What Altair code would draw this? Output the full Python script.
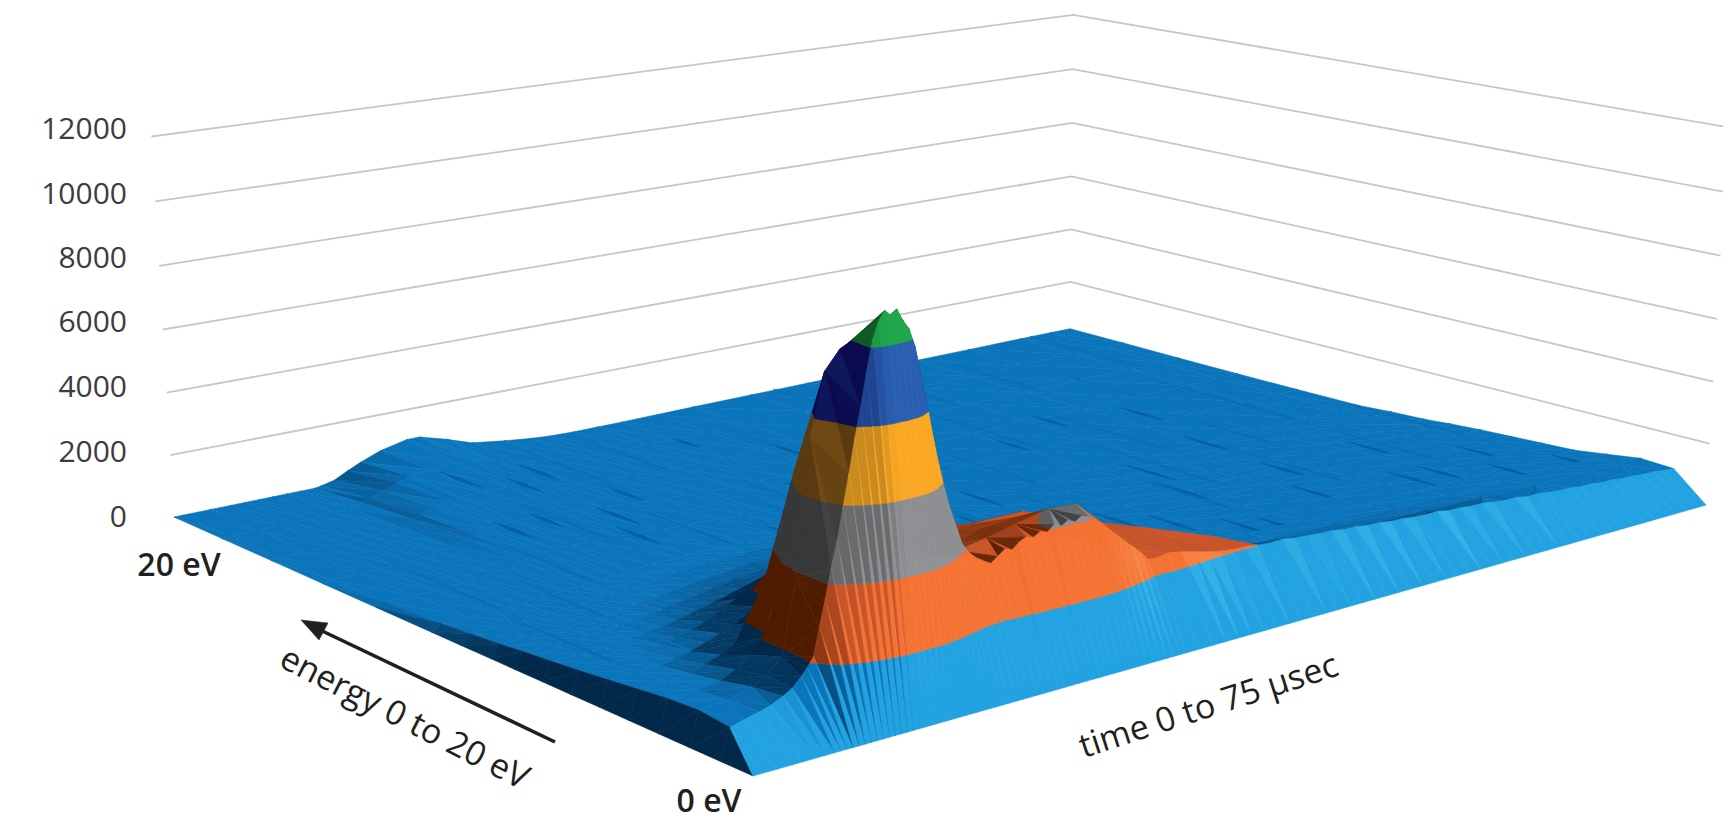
import altair as alt
import numpy as np

alt.data_transformers.disable_max_rows()

TIME = [0,0.6,2.5,4,5,6,7,8,9,10,10.5,11.5,12.5,13.5,15,17,18,20,22,24.5,26.5,28,30,32,34,37,40,45,50,55,60,65,70,73,75]
ENERGY = [0,0.9,1.8,2.7,3.6,4.5,5.4,6.3,7.2,8,9,10,12,14,16,18,20]

# the ridge row (0.9 eV) is read at a finer time step than the rest of the surface
RIDGE_T = [0,0.6,1.5,2.5,3.2,4,4.6,5.2,5.6,6,6.4,6.8,7.2,7.6,8,8.4,8.8,9.2,9.6,10,10.4,10.8,11.2,11.6,12,12.4,12.8,13.2,13.6,14,14.4,14.8,15.2,15.6,16,16.5,17,17.5,18,18.5,19,19.5,20,20.5,21,21.5,22,22.5,23,23.5,24,24.5,25,25.5,26,26.5,27,27.5,28,28.5,29,29.5,30,31,32,33,34,35,36,37,38,39,40,41,42,43,44,45,46,47,48,49,50,51,52,53,54,55,56,57,58,59,60,61,62,63,64,65,66,67,68,69,70,71,72,73,74,75]
RIDGE_Z = [0,850,950,1050,1150,1300,1450,1700,1900,2150,2900,3600,4400,5100,5950,6800,7700,8500,9400,10200,10650,10900,10750,10880,10550,10300,9800,9000,8200,7300,6500,5800,5200,4700,4200,3900,3700,3560,3450,3600,3750,3680,3850,3950,3880,4000,3930,4100,4000,4120,4030,4150,4080,3950,3800,3600,3400,3220,3020,2850,2650,2430,2400,2460,2400,2300,2200,2120,2070,2060,2000,1970,1980,1920,1900,1860,1850,1790,1780,1720,1710,1650,1640,1590,1560,1570,1500,1500,1450,1450,1390,1350,1350,1280,1280,1230,1190,1190,1130,1130,1080,1080,1030,1020,980,970,930,900]

E02 = [0,950,1000,1200,1400,1800,3800,7500,9200,9700,9800,9800,8800,6800,4700,3500,3500,3650,3850,4050,4000,3200,2350,2300,2200,2050,1500,1200,1150,1100,1050,1000,980,960,950]
E03 = [0,900,900,1000,1200,1500,1900,4200,6200,7400,7800,8000,7000,5500,3800,3100,3100,3200,3400,3500,3200,2800,2300,2250,2300,1800,950,900,880,860,840,820,800,800,800]
E04 = [0,800,800,850,1000,1150,1350,1500,1750,2600,3500,4500,4400,3700,3000,2700,2750,2850,3000,3050,2850,2600,2200,2100,2100,1000,800,720,700,680,670,660,650,650,650]
E05 = [0,700,700,720,800,900,1050,1200,1350,1500,1700,2500,3000,2900,2700,2500,2450,2500,2600,2650,2500,2300,2100,2100,1900,850,650,620,610,610,610,600,600,600,600]
E06 = [0,600,600,620,680,750,850,950,1100,1300,1400,1500,1800,2000,2250,2200,2200,2200,2200,2250,2150,2050,2050,2050,1500,700,560,540,530,530,530,530,530,530,550]
E07 = [0,520,520,520,560,600,650,720,800,900,950,1050,1150,1250,1400,1500,1550,1650,1700,1750,1650,1500,1300,1050,850,600,500,480,470,470,480,480,500,500,500]
E08 = [0,440,440,440,460,480,520,560,620,680,720,780,860,940,1050,1150,1200,1250,1300,1300,1250,1150,1000,820,680,500,420,400,400,400,410,420,430,430,430]
E09 = [0,360,360,360,380,400,420,460,500,540,570,620,680,740,820,900,940,980,1000,1000,950,880,760,640,540,420,350,340,340,340,340,350,350,350,350]
E10 = [0,280,280,280,290,320,340,370,400,430,450,490,530,570,630,680,700,720,730,720,680,620,540,470,400,320,280,270,270,270,280,280,290,300,300]
E11 = [0,200,200,200,220,250,270,300,320,350,370,400,430,460,490,510,520,520,510,490,450,410,370,330,290,240,220,210,210,210,210,220,220,220,220]
E12 = [0,100,100,100,110,130,160,220,300,400,450,500,520,530,520,480,450,400,350,300,260,230,200,190,180,180,180,180,180,180,190,190,200,200,200]
E13 = [0,50,50,50,60,80,110,170,260,400,480,570,610,620,600,560,520,440,360,280,230,200,170,160,160,170,170,170,180,180,190,190,190,190,190]
E14 = [0,20,20,20,30,50,70,110,180,320,420,560,660,720,740,720,680,540,390,290,220,180,160,150,150,160,170,170,180,180,190,190,190,190,190]
E15 = [0,10,10,10,20,30,40,60,100,180,280,430,600,720,820,860,840,640,420,300,220,170,150,140,140,150,160,170,180,180,190,190,200,200,200]
E16 = [0,0,0,0,0,0,0,0,0,0,30,130,350,550,800,1000,1000,750,450,300,200,150,120,120,120,130,140,150,160,170,180,190,200,200,200]
COUNTS = {2:E02,3:E03,4:E04,5:E05,6:E06,7:E07,8:E08,9:E09,10:E10,11:E11,12:E12,13:E13,14:E14,15:E15,16:E16}

# dark and faint creases that run along the energy direction: (time, energy from, energy to)
DARK_STREAKS = [(18,15.2,16.6),(20.9,16,17.6),(15.4,16.2,17.8),(12.3,12.6,14.2),(18,11,12.6),(19.5,12.4,14),(23,14,15.2),(15,13,14.2),(25,9,10.6),(28,10,11.4),(30,8,9.4),(35,7,8.6),(33,12,13.4),(40,9,10.5),(42,5.5,7),(44,4.5,6),(46,3.2,4.6),(48,3,4.2),(50,6,8),(52,8,9.6),(55,4,5.6),(58,6,7.5),(60,9,10.6),(62,3.5,5),(64.5,3.5,5),(66,6,7.5),(68,2.8,4),(70,4,5.5),(72,2.2,3.4),(50,12,13.2),(56,13,14.2),(62,12,13.4),(44,14,15.2),(38,15,16),(34,17,18)]
FAINT_STREAKS = [(3,3,9),(4.5,8,14),(6,2,7),(7.5,6,11),(9,12,17),(11,8,13),(13,14,19),(16,10,15),(21,8,13),(24,13,19),(27,6,12),(29,14,19),(31,9,14),(36,5,11),(38,11,18),(41,3.5,9),(43,10,17),(45,7,13),(47,14,20),(49,3,8),(51,10,16),(53,4,11),(54,14,20),(57,8,14),(59,3,9),(61,13,19),(63,6,12),(65,11,18),(67,3,8),(69,8,15),(71,13,20),(73,3,10)]

Z_TICKS = [2000,4000,6000,8000,10000,12000]
TICK_LABELS = ["0","2000","4000","6000","8000","10000","12000"]
BAND_EDGES = [0,2000,4000,6000,8000,10000,12000]
BAND_COLORS = [
    ("#02294a","#0b75bb","#22a2e0","#4cc8f0"),
    ("#4f1c00","#c9552a","#f47232","#f9a066"),
    ("#37383a","#6a6b6d","#8f9194","#b0b2b4"),
    ("#5a3a10","#c98a1f","#fca925","#fcc050"),
    ("#0a0a4f","#1f4590","#2b60b2","#3f78c8"),
    ("#0f5a25","#1c9040","#20a84a","#30c060"),
]

# camera calibration: (time, energy, count) -> page position
ANCHORS = [
    (0,20,0,174,517),(0,20,8000,159,266),(0,20,10000,156,201),(0,20,12000,151,136),
    (75,20,0,1070,334),(75,20,2000,1071,281),(75,20,6000,1072,175),(75,20,12000,1073,14),
    (0,0,0,753,776),(75,0,0,1706,505),(75,0,2000,1709,444),(75,0,4000,1713,382),
    (75,0,6000,1717,319),(75,0,8000,1721,257),(75,0,10000,1725,193),(75,0,12000,1728,128),
]
A, B = [], []
for t,e,z,u,v in ANCHORS:
    X,Y,Z = t/75,e/20,z/12000
    W = 8.0 if z==0 else 1.0
    A.append([W*q for q in [X,Y,Z,1,0,0,0,0,-u*X,-u*Y,-u*Z]]); B.append(W*u)
    A.append([W*q for q in [0,0,0,0,X,Y,Z,1,-v*X,-v*Y,-v*Z]]); B.append(W*v)
P = np.append(np.linalg.lstsq(np.array(A,float),np.array(B,float),rcond=None)[0],1).reshape(3,4)

# residual lean of the right-hand wall, which a single pinhole does not capture
fit = P @ np.array([1,0,1,1.0])
R_LEAN = (1728-fit[0]/fit[2])/(fit[0]/fit[2]-1072)

def project(t,e,z):
    h = P @ np.array([t/75,e/20,z/12000,1.0])
    x = float(h[0]/h[2]); y = float(h[1]/h[2])
    x += (z/12000)*R_LEAN*max(0.0,x-1072)
    return [round(x,2),round(y,2)]

def hexmix(a,b,f):
    ca=[int(a[i:i+2],16) for i in (1,3,5)]; cb=[int(b[i:i+2],16) for i in (1,3,5)]
    return "#%02x%02x%02x"%tuple(round(x+(y-x)*f) for x,y in zip(ca,cb))

def shade(tri,band,wall):
    p=[np.array([v[0]/75,v[1]/20,v[2]/12000*0.5]) for v in tri]
    n=np.cross(p[1]-p[0],p[2]-p[0])
    if n[2]<0: n=-n
    n=n/np.linalg.norm(n)
    raw=0.3*n[0]-0.8*n[1]+0.5*n[2]
    top=max(v[2] for v in tri)
    if not wall and top>1300:
        if n[0]<-0.35 and raw<0.85:
            raw=min(raw,0.0)
        elif top>6000 and n[0]<-0.1:
            raw=min(raw,0.0)
    d,m,b,h=BAND_COLORS[band]
    if raw<0.36:
        return hexmix(d,m,max(0.0,(raw+0.1)/0.46))
    if raw<0.6:
        return m
    if raw<0.8:
        return hexmix(m,b,(raw-0.6)/0.2)
    if raw<0.955:
        return b
    return hexmix(b,h,min(1.0,(raw-0.955)/0.04))

def clip(poly,level,keep_above):
    out=[]
    for i,a in enumerate(poly):
        b=poly[(i+1)%len(poly)]
        ia=(a[2]>=level) if keep_above else (a[2]<=level)
        ib=(b[2]>=level) if keep_above else (b[2]<=level)
        if ia: out.append(a)
        if ia!=ib:
            f=(level-a[2])/(b[2]-a[2])
            out.append((a[0]+(b[0]-a[0])*f,a[1]+(b[1]-a[1])*f,level))
    return out

features=[]
def put(ring3,c):
    ring=[project(*v) for v in ring3]; ring.append(ring[0])
    features.append({"type":"Feature","geometry":{"type":"Polygon","coordinates":[ring]},"properties":{"c":c}})

def add_tri(tri,wall=False):
    for k in range(len(BAND_COLORS)):
        lo,hi=BAND_EDGES[k],BAND_EDGES[k+1]
        poly=clip(list(tri),lo,True)
        if len(poly)>=3: poly=clip(poly,hi,False)
        if len(poly)<3: continue
        put(poly,shade(tri,k,wall))

def add_streaks(e_lo,e_hi):
    for lst,col,w in ((FAINT_STREAKS,"#0a6eb0",0.12),(DARK_STREAKS,"#07609f",0.2)):
        for t,e0,e1 in lst:
            em=(e0+e1)/2
            if not (e_lo<=em<e_hi): continue
            ti=min(range(len(TIME)),key=lambda q:abs(TIME[q]-t))
            ej=min(range(2,len(ENERGY)),key=lambda q:abs(ENERGY[q]-em))
            z=COUNTS[ej][ti]+30
            put([(t,e0,z),(t+w,em,z),(t,e1,z),(t-w,em,z)],col)

# far rows first
for j in range(len(ENERGY)-2,1,-1):
    row0=COUNTS[j]; row1=COUNTS[j+1]
    for i in range(len(TIME)-2,-1,-1):
        a=(TIME[i],ENERGY[j],row0[i]); b=(TIME[i+1],ENERGY[j],row0[i+1])
        c=(TIME[i+1],ENERGY[j+1],row1[i+1]); d=(TIME[i],ENERGY[j+1],row1[i])
        add_tri((b,c,d))
        add_tri((a,b,d))
    add_streaks(ENERGY[j],ENERGY[j+1] if j<len(ENERGY)-2 else 99)

# strip between the ridge row and the 1.8 eV row: zip the two samplings together
i=len(RIDGE_T)-1; k=len(TIME)-1
En,Ef=ENERGY[1],ENERGY[2]
while i>0 or k>0:
    nv=(RIDGE_T[i],En,RIDGE_Z[i]); fv=(TIME[k],Ef,E02[k])
    if k>0 and (i==0 or TIME[k-1]>=RIDGE_T[i-1]):
        add_tri((nv,fv,(TIME[k-1],Ef,E02[k-1]))); k-=1
    else:
        add_tri((nv,fv,(RIDGE_T[i-1],En,RIDGE_Z[i-1]))); i-=1

# front wall from the floor edge (0 eV) up to the ridge row
for i in range(len(RIDGE_T)-2,-1,-1):
    a=(RIDGE_T[i],0,0); b=(RIDGE_T[i+1],0,0)
    c=(RIDGE_T[i+1],En,RIDGE_Z[i+1]); d=(RIDGE_T[i],En,RIDGE_Z[i])
    if i==0:
        add_tri((a,c,d)); add_tri((a,b,c),True)
    else:
        add_tri((b,c,d),True); add_tri((a,b,d),True)

lines=[]
for z in Z_TICKS:
    pts=[project(0,20,z),project(75,20,z),project(75,0,z)]
    lines.append({"type":"Feature","geometry":{"type":"LineString","coordinates":pts},"properties":{"c":"#c6c7c9"}})

proj=dict(type="identity",scale=1,translate=[-8,-8])
surface=alt.Chart(alt.Data(values=features)).mark_geoshape(strokeWidth=0.6).encode(
    fill=alt.Fill("properties.c:N",scale=None),stroke=alt.Stroke("properties.c:N",scale=None)).project(**proj)
grid=alt.Chart(alt.Data(values=lines)).mark_geoshape(filled=False,strokeWidth=1.8,stroke="#c6c7c9").project(**proj)

ARROW_LINE=[[555,742],[318,629]]
ARROW_HEAD=[[301,620],[328,623],[319,640],[301,620]]
arrow=alt.Chart(alt.Data(values=[{"type":"Feature","geometry":{"type":"LineString","coordinates":ARROW_LINE},"properties":{}}])).mark_geoshape(filled=False,stroke="#231f20",strokeWidth=3.6).project(**proj)
head=alt.Chart(alt.Data(values=[{"type":"Feature","geometry":{"type":"Polygon","coordinates":[ARROW_HEAD]},"properties":{}}])).mark_geoshape(fill="#231f20",stroke="#231f20",strokeWidth=0.5).project(**proj)

TICK_Y=[518,453,388,323,259,195,130]
ticks=[{"lon":127,"lat":y,"s":s} for y,s in zip(TICK_Y,TICK_LABELS)]
tick_text=alt.Chart(alt.Data(values=ticks)).mark_text(align="right",baseline="middle",font="Open Sans",fontSize=30,color="#3c3c3e").encode(
    longitude="lon:Q",latitude="lat:Q",text="s:N").project(**proj)
LABELS=[
    {"lon":179,"lat":566,"s":"20 eV"},
    {"lon":709,"lat":802,"s":"0 eV"},
]
lab=alt.Chart(alt.Data(values=LABELS)).mark_text(align="center",baseline="middle",font="Open Sans",fontSize=32,fontWeight=600,color="#231f20").encode(
    longitude="lon:Q",latitude="lat:Q",text="s:N").project(**proj)
rot1=alt.Chart(alt.Data(values=[{"lon":404,"lat":719,"s":"energy 0 to 20 eV"}])).mark_text(angle=27,align="center",baseline="middle",font="Open Sans",fontSize=34,color="#231f20").encode(
    longitude="lon:Q",latitude="lat:Q",text="s:N").project(**proj)
rot2=alt.Chart(alt.Data(values=[{"lon":1209,"lat":707,"s":"time 0 to 75 µsec"}])).mark_text(angle=342,align="center",baseline="middle",font="Open Sans",fontSize=34,color="#231f20").encode(
    longitude="lon:Q",latitude="lat:Q",text="s:N").project(**proj)

chart=alt.layer(grid,surface,arrow,head,tick_text,lab,rot1,rot2).properties(width=1715,height=815,padding=0,background="white",autosize=alt.AutoSizeParams(type="none")).configure_view(stroke=None)
chart.save("out.html",embed_options={"renderer":"svg","actions":False})
